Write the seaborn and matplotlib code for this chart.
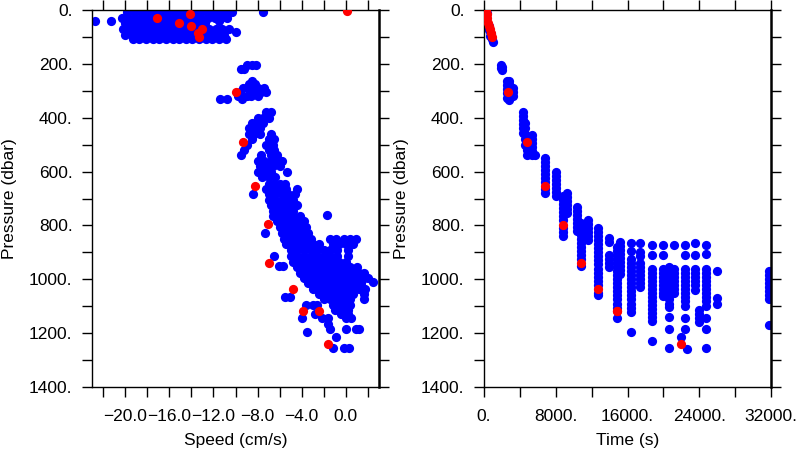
import matplotlib
matplotlib.use("Agg")
import matplotlib.pyplot as plt
from matplotlib.ticker import MultipleLocator, FixedLocator, FuncFormatter
import seaborn as sns
import pandas as pd

# ---------------- data: left panel (speed vs pressure) ----------------
# rows: pressure (dbar) -> list of speeds (cm/s)
speed_rows_top = {
    8: [-19.8, -19.2, -18.6, -18.0, -17.4, -16.8, -16.2, -15.6, -15.0, -14.4, -13.8, -13.2, -12.6, -12.0, -11.4, -10.8, -10.3, -7.5],
    28: [-20.3, -19.7, -19.1, -18.5, -17.9, -17.3, -16.7, -16.1, -15.5, -14.9, -14.3, -13.7, -13.1, -12.5, -11.9, -11.3, -10.8],
    40: [-22.7, -21.3, -11.5],
    50: [-20.0, -19.4, -18.8, -18.2, -17.6, -17.0, -16.4, -15.8, -15.2, -14.6, -14.0, -13.4, -12.8],
    70: [-20.2, -19.6, -19.0, -18.4, -17.8, -17.2, -16.6, -16.0, -15.4, -14.8, -14.2, -13.6, -13.0, -12.4, -11.8, -11.2, -10.6],
    80: [-10.0],
    92: [-20.0, -19.4, -18.8, -18.2, -17.6, -17.0, -16.4, -15.8, -15.2, -14.6, -14.0, -13.4, -12.8, -12.2, -11.6, -11.0],
    108: [-19.3, -18.7, -18.1, -17.5, -16.9, -16.3, -15.7, -15.1, -14.5, -13.9, -13.3, -12.7, -12.1, -11.5, -10.9],
}
speed_rows_upper = {
    205: [-9.0, -8.5, -8.1],
    218: [-9.5, -9.2],
    262: [-8.5],
    275: [-8.2, -8.8],
    290: [-9.3, -8.5, -8.0, -7.4],
    305: [-9.6, -8.7, -8.2, -7.7, -7.2],
    320: [-9.8, -9.0, -8.6, -8.0],
    330: [-11.4, -10.8, -9.4],
    380: [-7.2, -6.8],
    400: [-8.0, -7.5, -7.0],
    420: [-8.5, -8.0, -7.5],
    440: [-8.8, -8.3, -7.8],
    460: [-8.8, -8.3, -7.8, -6.8],
    480: [-8.5, -7.0, -6.5],
    500: [-9.0, -7.2, -6.6],
    520: [-9.2, -7.0, -6.5],
    540: [-9.5, -7.7, -6.8, -6.2],
    560: [-8.0, -7.4, -6.8, -6.2, -5.8],
    580: [-7.8, -7.2, -6.6, -6.0],
    600: [-8.0, -7.4, -6.8, -5.3],
    620: [-7.6, -7.0, -6.4],
    645: [-7.0, -6.5, -6.0, -5.5],
    665: [-7.2, -6.6, -6.0, -5.4, -4.4],
    685: [-8.4, -7.0, -6.4, -5.8, -5.2, -4.6],
    705: [-7.0, -6.4, -5.8, -5.2, -4.8],
    725: [-6.8, -6.2, -5.6, -5.0, -4.4],
    745: [-6.6, -6.0, -5.4, -4.8],
    760: [-1.7],
    765: [-6.6, -6.0, -5.4, -4.8, -4.2],
    785: [-6.2, -5.6, -5.0, -4.4, -3.8],
}
speed_rows_deep = {
    805: [-6.0, -5.4, -4.8, -4.2, -3.6],
    828: [-7.3, -5.8, -5.2, -4.6, -4.0, -3.4],
    850: [-5.6, -5.0, -4.4, -3.8, -3.2, -1.4, -0.9, -0.2, 0.4, 0.9],
    870: [-5.4, -4.8, -4.2, -3.6, -3.0, -2.4, -1.2, -0.6, 0.0, 0.6],
    890: [-5.0, -4.4, -3.8, -3.2, -2.6, -2.0, -1.4, -0.8, 0.2],
    915: [-6.5, -5.0, -4.4, -3.8, -3.2, -2.6, -2.0, -1.4, -0.8, 0.2],
    935: [-4.8, -4.2, -3.6, -3.0, -2.4, -1.8, -1.2, -0.6, 0.0],
    950: [-6.1, -5.7],
    955: [-4.4, -3.8, -3.2, -2.6, -2.0, -1.4, -0.8, -0.2, 0.4, 1.0],
    975: [-4.2, -3.6, -3.0, -2.4, -1.8, -1.2, -0.6, 0.0, 0.6, 1.2, 1.6],
    995: [-3.8, -3.2, -2.6, -2.0, -1.4, -0.8, -0.2, 0.4, 1.0, 1.6, 2.0],
    1010: [2.5],
    1015: [-3.4, -2.8, -2.2, -1.6, -1.0, -0.4, 0.2, 0.8, 1.4],
    1035: [-3.0, -2.4, -1.8, -1.2, -0.6, 0.0, 0.6, 1.2, 1.7],
    1055: [-2.4, -1.8, -1.2, -0.6, 0.0, 0.6, 1.6],
    1065: [-5.5, -5.1],
    1075: [-2.0, -1.4, -0.8, -0.2, 0.4, 1.6],
    1095: [-3.6, -3.0, -2.6, -1.2, -0.6, 0.0, 0.4],
    1115: [-1.0, -0.4, 0.2],
    1130: [-2.8, -0.4, 0.2],
    1145: [-4.0, -2.2, -1.6, 0.0, 0.5],
    1165: [-1.6],
    1185: [-1.4, 0.0, 0.9, 1.2],
    1195: [-3.5],
    1215: [-0.9],
    1255: [-1.2, -0.2, 0.3],
}
speed_red = [0.1, -14.1, -17.1, -15.1, -14.0, -13.0, -13.4, -13.3, -10.0, -9.3, -8.2, -7.1, -7.0, -4.8, -3.9, -2.4, -1.6]
pres_red_left = [3, 15, 30, 47, 59, 72, 86, 101, 303, 490, 654, 795, 940, 1036, 1118, 1118, 1240]

# ---------------- data: right panel (time vs pressure) ----------------
time_blue_surface = [100, 250, 300, 400, 550, 600, 700, 800, 850, 950]
pres_blue_surface = [5, 30, 10, 55, 75, 60, 95, 90, 108, 118]
# columns: time (s) -> list of pressures (dbar)
time_columns = {
    1900: [205, 215],
    2050: [210, 222],
    2600: [265, 280, 295, 310, 325],
    2750: [262, 275, 290, 320, 333],
    3200: [290, 305, 320],
    4350: [380, 395, 410, 425, 440, 455],
    4600: [420, 440, 460, 480, 500],
    4780: [520, 540],
    5330: [465, 480, 495, 510, 525, 540],
    5690: [540],
    6800: [550, 565, 580, 595, 610, 625, 640, 665, 680],
    8030: [600, 615, 630, 645, 660, 675, 690],
    8800: [690, 705, 720, 735, 750, 765, 780, 810, 825, 840],
    9250: [680, 695, 710, 725, 740, 755],
    10370: [730, 745, 760, 775, 790, 805, 820],
    10800: [790, 805, 820, 835, 850, 865, 880, 895, 910, 925, 950],
    11600: [780, 795, 810, 825, 840, 855],
    12700: [810, 825, 840, 855, 870, 885, 900, 915, 930, 945, 960, 975, 990, 1005, 1020, 1050, 1060],
    13940: [845, 860, 910, 925, 940, 955],
    14800: [880, 895, 910, 925, 940, 955, 970, 985, 1000, 1015, 1030, 1045, 1060, 1075, 1090, 1105, 1145],
    15200: [860, 875, 890, 905, 920, 935, 950, 965, 980],
    16400: [865, 895, 925, 940, 955, 970, 985, 1000, 1015, 1030, 1045, 1060, 1075, 1090, 1105, 1120, 1195],
    17400: [865, 900, 915, 940, 955, 970, 985, 1000, 1015, 1030],
    18730: [873, 910, 960, 975, 990, 1005, 1020, 1035, 1050, 1065, 1080, 1095, 1110, 1125, 1140, 1155, 1230],
    19960: [873, 910, 960, 975, 990, 1005, 1020, 1035, 1050, 1062],
    20600: [955, 970, 985, 1000, 1015, 1030, 1045, 1060, 1075, 1090, 1103, 1140, 1185, 1255],
    21200: [873, 960, 975, 990, 1005, 1020, 1035, 1050],
    21970: [1215],
    22400: [873, 910, 960, 975, 990, 1005, 1020, 1035, 1050, 1065, 1080, 1100, 1145, 1185],
    22630: [1260],
    23530: [866, 910, 960, 975, 990, 1005, 1020, 1040],
    23970: [1115, 1130, 1145, 1160],
    24740: [873, 905, 960, 975, 990, 1005, 1020, 1035, 1050, 1065, 1080, 1100, 1145, 1185, 1255],
    25980: [970, 1070, 1090],
    31820: [970, 985, 1000, 1015, 1030, 1045, 1060, 1075, 1170],
}
time_red = [200, 290, 390, 500, 590, 690, 800, 880, 2700, 4780, 6800, 8800, 10800, 12700, 14800, 14800, 21970]
pres_red_right = [3, 15, 30, 47, 59, 72, 86, 101, 303, 490, 654, 798, 940, 1036, 1118, 1118, 1240]

speed_ticks_labeled = [-20.0, -16.0, -12.0, -8.0, -4.0, 0.0]
time_ticks_labeled = [0, 8000, 16000, 24000, 32000]
pres_ticks_labeled = [0, 200, 400, 600, 800, 1000, 1200, 1400]


def rows_to_df(rows, xname):
    xs, ps = [], []
    for p, vals in rows.items():
        for v in vals:
            xs.append(v)
            ps.append(p)
    return pd.DataFrame({xname: xs, "pressure": ps})


left_blue = pd.concat([rows_to_df(speed_rows_top, "speed"),
                       rows_to_df(speed_rows_upper, "speed"),
                       rows_to_df(speed_rows_deep, "speed")], ignore_index=True)
left_red = pd.DataFrame({"speed": speed_red, "pressure": pres_red_left})

tx, tp = list(time_blue_surface), list(pres_blue_surface)
for t, plist in time_columns.items():
    for p in plist:
        tx.append(t)
        tp.append(p)
right_blue = pd.DataFrame({"time": tx, "pressure": tp})
right_red = pd.DataFrame({"time": time_red, "pressure": pres_red_right})

# ---------------- styling ----------------
sns.set_theme(style="white")
plt.rcParams["font.family"] = ["Liberation Sans", "DejaVu Sans"]
plt.rcParams["axes.unicode_minus"] = True

fig = plt.figure(figsize=(8, 4.5), dpi=100)
ax1 = fig.add_axes([92 / 800, 1 - 387 / 450, 287 / 800, 377 / 450])
ax2 = fig.add_axes([484 / 800, 1 - 387 / 450, 287 / 800, 377 / 450])

MS = 44
sns.scatterplot(data=left_blue, x="speed", y="pressure", color="#0000ff", s=MS,
                linewidth=0, ax=ax1, zorder=2)
sns.scatterplot(data=left_red, x="speed", y="pressure", color="#ff0000", s=MS,
                linewidth=0, ax=ax1, zorder=3)
sns.scatterplot(data=right_blue, x="time", y="pressure", color="#0000ff", s=MS,
                linewidth=0, ax=ax2, zorder=2)
sns.scatterplot(data=right_red, x="time", y="pressure", color="#ff0000", s=MS,
                linewidth=0, ax=ax2, zorder=3)

ax1.set_xlim(-23, 3)
ax2.set_xlim(0, 32000)
for ax in (ax1, ax2):
    ax.set_ylim(1400, 0)
    ax.yaxis.set_major_locator(FixedLocator(pres_ticks_labeled))
    ax.yaxis.set_minor_locator(MultipleLocator(100))
    ax.yaxis.set_major_formatter(FuncFormatter(lambda v, pos: f"{int(round(v))}."))
    ax.tick_params(which="both", direction="out", length=7, width=1.0, color="black",
                   top=True, right=True, bottom=True, left=True,
                   labeltop=False, labelright=False, labelsize=12.5, labelcolor="black", pad=7)
    ax.tick_params(axis="x", which="both", pad=9)
    ax.set_ylabel("Pressure (dbar)", fontsize=12.5, color="black", labelpad=9)
    for name, sp in ax.spines.items():
        sp.set_visible(True)
        sp.set_color("black")
        sp.set_linewidth(1.0)
    ax.spines["right"].set_linewidth(1.8)
    ax.set_facecolor("white")

ax1.xaxis.set_major_locator(FixedLocator(speed_ticks_labeled))
ax1.xaxis.set_minor_locator(MultipleLocator(2.0))
ax1.xaxis.set_major_formatter(FuncFormatter(lambda v, pos: f"{v:.1f}".replace("-", "\u2212")))
ax1.set_xlabel("Speed (cm/s)", fontsize=12.5, color="black", labelpad=6)

ax2.xaxis.set_major_locator(FixedLocator(time_ticks_labeled))
ax2.xaxis.set_minor_locator(MultipleLocator(4000))
ax2.xaxis.set_major_formatter(FuncFormatter(lambda v, pos: f"{int(round(v))}."))
ax2.set_xlabel("Time (s)", fontsize=12.5, color="black", labelpad=6)

fig.savefig("out.png", dpi=100, facecolor="white")
